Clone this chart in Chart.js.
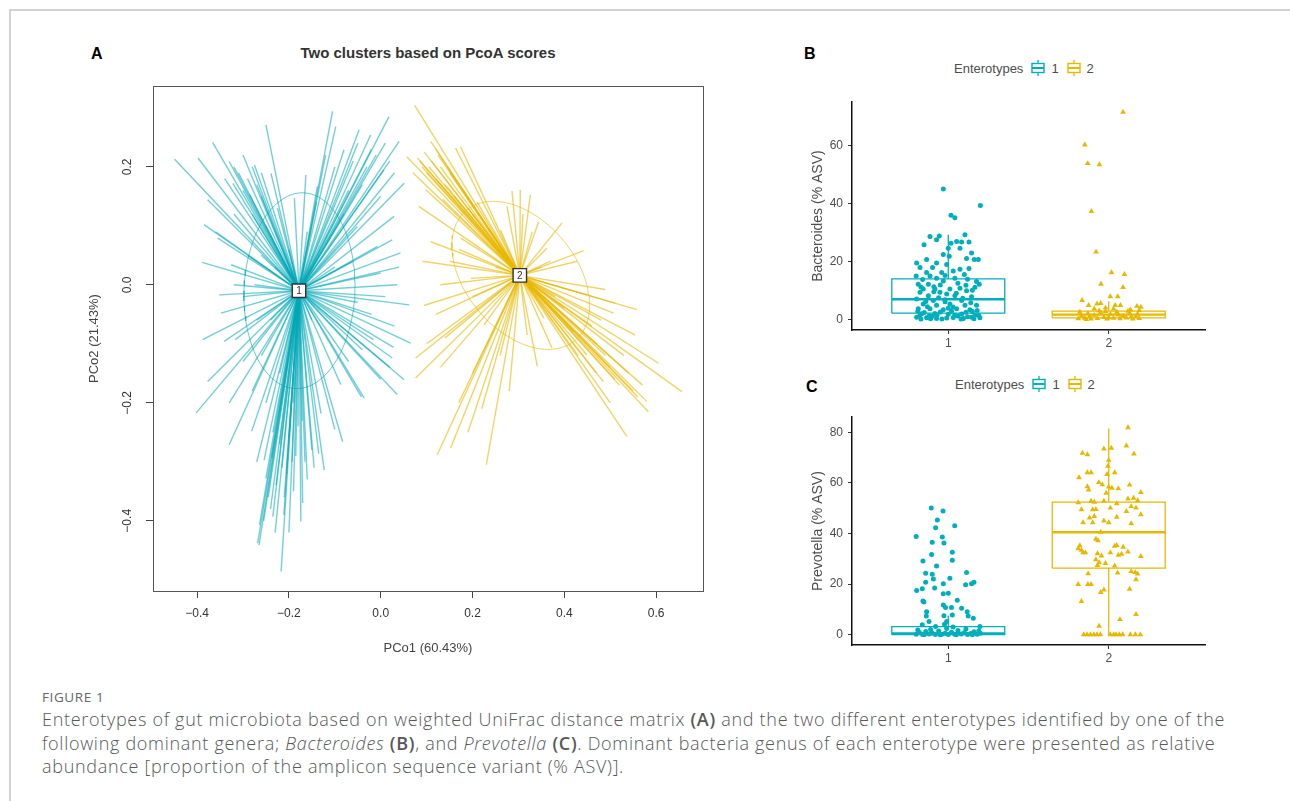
<!DOCTYPE html>
<html>
<head>
<meta charset="utf-8">
<script src="https://cdn.jsdelivr.net/npm/chart.js@4.4.1/dist/chart.umd.min.js"></script>
<style>
  html, body { margin: 0; padding: 0; background: #fff; width: 1290px; height: 801px; overflow: hidden; font-family: 'Liberation Sans', Arial, sans-serif; }
  .frame { position: absolute; left: 9px; top: 9px; width: 1300px; height: 820px; border-top: 2px solid #d2d2d2; border-left: 2px solid #d2d2d2; }
  .abs { position: absolute; }
  .letter { font-weight: bold; font-size: 16px; color: #000; }
  .legend { font-size: 13px; color: #4d4d4d; display: flex; align-items: center; white-space: nowrap; }
  .legend svg { margin: 0 6px 0 8px; }
  .caption { font-family: 'Open Sans', sans-serif; color: #585858; }
  .cap-head { font-size: 13.5px; letter-spacing: 0.6px; color: #666; }
  .cap-body { font-size: 18px; font-weight: 300; letter-spacing: 0.7px; line-height: 23.5px; white-space: nowrap; }
  .cap-body b { font-weight: 600; }
</style>
</head>
<body>
<div class="frame"></div>

<div class="abs letter" style="left:91px;top:45px;">A</div>
<div class="abs" style="left:228px;top:44px;width:400px;text-align:center;font-weight:bold;font-size:15px;color:#333;">Two clusters based on PcoA scores</div>
<div class="abs" style="left:80px;top:70px;width:640px;height:600px;"><canvas id="chartA" width="640" height="600"></canvas></div>

<div class="abs letter" style="left:804px;top:45px;">B</div>
<div class="abs legend" style="left:954px;top:60px;">Enterotypes
  <svg width="14" height="16"><line x1="7" y1="0" x2="7" y2="16" stroke="#00AFBB" stroke-width="1.3"/><rect x="1" y="3.5" width="12" height="9" fill="#fff" stroke="#00AFBB" stroke-width="1.4"/><line x1="1" y1="8" x2="13" y2="8" stroke="#00AFBB" stroke-width="2"/></svg>1
  <svg width="14" height="16"><line x1="7" y1="0" x2="7" y2="16" stroke="#E7B800" stroke-width="1.3"/><rect x="1" y="3.5" width="12" height="9" fill="#fff" stroke="#E7B800" stroke-width="1.4"/><line x1="1" y1="8" x2="13" y2="8" stroke="#E7B800" stroke-width="2"/></svg>2
</div>
<div class="abs" style="left:795px;top:90px;width:420px;height:270px;"><canvas id="chartB" width="420" height="270"></canvas></div>

<div class="abs letter" style="left:806px;top:378px;">C</div>
<div class="abs legend" style="left:955px;top:376px;">Enterotypes
  <svg width="14" height="16"><line x1="7" y1="0" x2="7" y2="16" stroke="#00AFBB" stroke-width="1.3"/><rect x="1" y="3.5" width="12" height="9" fill="#fff" stroke="#00AFBB" stroke-width="1.4"/><line x1="1" y1="8" x2="13" y2="8" stroke="#00AFBB" stroke-width="2"/></svg>1
  <svg width="14" height="16"><line x1="7" y1="0" x2="7" y2="16" stroke="#E7B800" stroke-width="1.3"/><rect x="1" y="3.5" width="12" height="9" fill="#fff" stroke="#E7B800" stroke-width="1.4"/><line x1="1" y1="8" x2="13" y2="8" stroke="#E7B800" stroke-width="2"/></svg>2
</div>
<div class="abs" style="left:795px;top:405px;width:420px;height:270px;"><canvas id="chartC" width="420" height="270"></canvas></div>

<div class="abs caption cap-head" style="left:42px;top:688px;">FIGURE 1</div>
<div class="abs caption cap-body" style="left:42px;top:708px;">
Enterotypes of gut microbiota based on weighted UniFrac distance matrix <b>(A)</b> and the two different enterotypes identified by one of the<br>
following dominant genera; <i>Bacteroides</i> <b>(B)</b>, and <i>Prevotella</i> <b>(C)</b>. Dominant bacteria genus of each enterotype were presented as relative<br>
abundance [proportion of the amplicon sequence variant (% ASV)].
</div>

<script>
// ---- Panel A: PCoA spider plot ----
const centX = [-0.178, 0.303];
const centY = [-0.010, 0.016];

const c1Ends = [
  [-0.449,0.213],[-0.398,0.215],[-0.366,0.241],[-0.385,0.102],[-0.389,0.038],[-0.25,0.271],[-0.33,0.209],[-0.275,0.203],
  [-0.239,0.189],[-0.377,0.144],[-0.322,0.172],[-0.286,0.153],[-0.163,0.186],[-0.105,0.294],[-0.098,0.268],[-0.047,0.263],
  [-0.022,0.254],[0.018,0.285],[0.04,0.243],[0.007,0.195],[0.051,0.172],[0.029,0.116],[0.025,0.076],[0.043,0.054],
  [0.036,0.0],[0.062,-0.034],[-0.08,0.229],[-0.138,0.167],[-0.188,0.147],[-0.225,0.13],[-0.326,0.034],[-0.355,0.079],
  [-0.275,0.0],[-0.051,0.099],[-0.007,0.065],
  [-0.388,-0.093],[-0.402,-0.217],[-0.377,-0.164],[-0.33,-0.271],[-0.341,-0.096],[-0.265,-0.441],[-0.217,-0.486],[-0.235,-0.393],
  [-0.174,-0.401],[-0.123,-0.314],[-0.083,-0.266],[-0.13,-0.218],[-0.036,-0.192],[0.036,-0.186],[0.051,-0.161],[0.065,-0.099],
  [0.025,-0.124],[-0.254,-0.297],[-0.268,-0.438],[-0.264,-0.407],[-0.211,-0.39],[-0.25,-0.328],[-0.135,-0.286],[-0.1,-0.245],
  [-0.042,-0.19],[-0.281,-0.248],[-0.317,-0.093],[-0.171,-0.231],[-0.193,-0.3],[-0.237,-0.293],[-0.087,-0.169],[-0.016,-0.093],
  [-0.352,-0.017],[-0.348,-0.048],[0.028,-0.106],
  [-0.245,-0.36],[-0.228,-0.34],[-0.205,-0.32],[-0.19,-0.35],[-0.16,-0.33],[-0.15,-0.28],[-0.22,-0.27],[-0.2,-0.42],
  [-0.185,-0.29],[-0.24,-0.38],[-0.255,-0.4],[-0.21,-0.36],[-0.17,-0.37],[-0.145,-0.31],
  [-0.31,0.19],[-0.29,0.18],[-0.3,0.16],[-0.27,0.17],[-0.26,0.15],[-0.34,0.18],[-0.28,0.12],[-0.32,0.12],[-0.25,0.1],[-0.36,0.09],
  [-0.01,0.22],[0.01,0.24],[-0.03,0.2],[-0.06,0.21],[-0.04,0.17],[0.0,0.15],[-0.07,0.16],[-0.1,0.2],[-0.12,0.22],[-0.14,0.14],[-0.08,0.12],
  [0.04,0.03],[0.01,-0.02],[-0.02,-0.05],[0.03,-0.07],[-0.05,-0.03],[0.0,0.02],[-0.06,0.04],[-0.1,0.03],[-0.04,-0.11],[0.02,-0.14],
  [-0.07,-0.13],[0.0,-0.16],
  [-0.3,-0.02],[-0.32,0.0],[-0.29,0.05],[-0.27,-0.06],[-0.3,-0.13],[-0.26,-0.12],[-0.33,-0.2],[-0.28,-0.18],[-0.24,-0.06],
  [-0.23,0.03],[-0.22,-0.15],[-0.2,0.06],[-0.16,0.09],[-0.19,-0.2],[-0.15,-0.06],[-0.26,0.05],
  [-0.23,-0.42],[-0.215,-0.31],[-0.2,-0.26],[-0.18,-0.24],[-0.165,-0.3],[-0.235,-0.25],[-0.27,-0.3],[-0.25,-0.2],
  [-0.3,0.22],[-0.28,0.2],[-0.32,0.2],[-0.26,0.19],[0.02,0.21],[-0.02,0.23],[0.03,0.19],[-0.05,0.24]
];

const c2Ends = [
  [0.074,0.304],[0.057,0.217],[0.08,0.215],[0.109,0.243],[0.163,0.232],[0.174,0.234],[0.098,0.161],[0.083,0.133],
  [0.109,0.073],[0.091,0.04],[0.094,-0.035],[0.076,-0.124],[0.076,-0.158],[0.123,-0.288],[0.152,-0.277],[0.23,-0.305],
  [0.341,-0.138],[0.536,-0.257],[0.583,-0.215],[0.58,-0.198],[0.656,-0.181],[0.605,-0.133],[0.558,-0.042],[0.489,-0.008],
  [0.511,-0.031],[0.507,-0.048],[0.554,-0.085],[0.485,-0.164],[0.449,-0.119],[0.286,0.159],[0.304,0.161],[0.326,0.153],
  [0.395,0.105],[0.442,0.058],[0.428,0.04],[0.344,0.107],[0.362,0.062],[0.275,0.133],[0.174,0.079],[0.196,0.011],
  [0.261,0.093],[0.355,-0.056],[0.373,-0.107],[0.319,-0.085],[0.225,-0.068],[0.449,-0.017],
  [0.09,0.2],[0.1,0.19],[0.11,0.21],[0.12,0.18],[0.13,0.2],[0.14,0.17],[0.15,0.19],[0.16,0.15],[0.18,0.16],[0.19,0.13],
  [0.2,0.12],[0.21,0.14],[0.07,0.19],[0.095,0.225],[0.12,0.23],[0.135,0.145],[0.23,0.1],[0.24,0.07],
  [0.52,-0.17],[0.55,-0.18],[0.5,-0.14],[0.47,-0.1],[0.53,-0.12],[0.57,-0.17],[0.46,-0.07],[0.42,-0.08],[0.4,-0.04],
  [0.43,-0.12],[0.48,-0.06],[0.38,-0.02],[0.5,-0.2],[0.47,-0.15],
  [0.1,-0.1],[0.13,-0.14],[0.17,-0.2],[0.2,-0.15],[0.19,-0.25],[0.14,-0.09],[0.12,-0.05],[0.26,-0.12],[0.22,-0.21],[0.28,-0.18],
  [0.15,0.04],[0.13,0.0],[0.2,-0.02],[0.25,0.03],[0.17,0.06],
  [0.31,0.12],[0.33,0.09],[0.37,0.04],[0.35,0.03],
  [0.085,0.21],[0.105,0.2],[0.125,0.22],[0.145,0.2],[0.51,-0.16],[0.54,-0.15],[0.56,-0.19],[0.49,-0.12]
];

// confidence ellipses: centre, x half-extent, y half-extent, phase (deg)
const ellCx = [-0.177, 0.305];
const ellCy = [-0.010, 0.016];
const ellP = [0.121, 0.150];
const ellQ = [0.166, 0.1255];
const ellPhi = [87, 113.6];

const xTicksA = [-0.4, -0.2, 0.0, 0.2, 0.4, 0.6];
const yTicksA = [-0.4, -0.2, 0.0, 0.2];

// ---- Panels B, C: boxplots with jitter ----
const groups = [1, 2];
const bacQ1 = [2.2, 0.6];
const bacMed = [7.0, 1.7];
const bacQ3 = [14.0, 2.9];
const bacLo = [0, 0];
const bacHi = [29.2, 6.3];
const bacTicks = [0, 20, 40, 60];

const prevQ1 = [0, 26.3];
const prevMed = [0.5, 40.5];
const prevQ3 = [3.2, 52.4];
const prevLo = [0, 0];
const prevHi = [7.5, 81.5];
const prevTicks = [0, 20, 40, 60, 80];

// [jitter offset from group, value]
const bac1Pts = [
  [-0.031,45],[0.2,39.3],[0.017,35.9],[0.041,35.1],[-0.056,28.8],[0.104,29.2],[-0.114,28.6],[-0.073,27.5],[-0.151,25.8],
  [0.052,26.9],[0.083,26.7],[0.129,26.7],[0.017,26.3],[0.073,24.6],[0,24.6],[0.145,22.9],[-0.031,22.4],[0.006,21.8],
  [0.114,21],[0.187,20.7],[0.162,20.7],[-0.135,20.7],[-0.197,19.5],[-0.073,19.5],[-0.01,19],[-0.176,17.9],[-0.098,17.9],
  [0.073,17.3],[0.129,17.6],[-0.135,16.2],[-0.041,16.2],[0.031,16.7],[-0.2,15],[-0.114,15],[-0.073,14.2],[0.041,14.2],
  [-0.031,13.3],[0.176,13.1],[0.193,12.2],[-0.187,12.2],[-0.124,12.2],[0.11,11.8],[0.166,11.1],[-0.156,10.5],[-0.083,10.5],
  [0.01,10.5],[0.073,10.8],[0.114,9.9],[-0.176,9.4],[-0.052,9.4],[-0.01,8.8],[0.041,8.2],[-0.124,8.2],[0.145,7.9],
  [-0.197,7.1],[-0.093,6.6],[-0.021,6.8],[0.083,6.6],[-0.156,5.4],[-0.073,4.9],[0.01,5.4],[0.104,4.9],[0.176,4.9],
  [-0.187,3.7],[-0.114,3.7],[-0.031,3.4],[0.052,3.7],[0.135,3.4],[-0.166,2],[-0.083,2.1],[0,1.8],[0.083,1.9],[0.166,1.5],
  [-0.197,0.8],[-0.135,0.6],[-0.073,0.4],[-0.01,0.5],[0.031,0.7],[0.094,0.4],[0.145,0.8],[0.197,0.6],[-0.17,0.2],
  [-0.1,1.1],[0.06,1.2],[0.12,1.0],[-0.05,2.6],[0.15,2.8],[-0.19,2.9],[0.19,1.4],[-0.12,1.3],[0.02,2.9],[-0.06,7.5],
  [0.06,12.5],[-0.16,13.8],[0.1,15.5],[-0.09,11.3],[0.14,5.8],[-0.14,6.2],[0.03,4.3],[-0.02,15.2],
  [-0.18,1.1],[-0.15,2.4],[-0.11,0.3],[-0.07,1.6],[-0.04,0.2],[0.0,3.9],[0.04,1.5],[0.08,0.2],[0.11,2.5],[0.16,0.3],
  [0.18,3.1],[-0.13,4.4],[-0.09,9.6],[0.05,9.1],[-0.05,11.9],[0.12,13.9],[-0.17,11.2],[0.09,7.3],[-0.02,6.1],[0.15,10.1]
];
const bac2Pts = [
  [0.089,71.5],[-0.149,60.2],[-0.131,53.8],[-0.058,53.4],[-0.108,37.3],[-0.079,23.3],[0.017,16.2],[0.098,15.6],
  [-0.048,12.2],[0.089,11.1],[-0.166,6.6],[0.01,7.9],[0.056,7.9],[-0.125,4.9],[-0.073,5.4],[-0.05,5.6],[0.04,4.9],
  [0.073,4.9],[0.176,4.6],[0.2,4.3],[-0.09,3.7],[-0.02,4.0],[0.03,3.7],[0.135,3.4],[0.19,3.2],
  [-0.19,0.3],[-0.17,1.2],[-0.15,0.5],[-0.13,2.1],[-0.11,0.2],[-0.09,1.5],[-0.07,0.4],[-0.05,2.4],[-0.03,0.8],[-0.01,0.2],
  [0.01,1.9],[0.03,0.5],[0.05,2.6],[0.07,0.3],[0.09,1.3],[0.11,0.6],[0.13,2.2],[0.15,0.2],[0.17,1.0],[0.19,0.4],
  [-0.18,2.6],[-0.12,1.0],[-0.06,3.0],[0.0,0.7],[0.06,1.6],[0.12,2.9],[0.18,2.0],[-0.14,0.1],[0.14,0.9],[-0.02,2.8]
];
const prev1Pts = [
  [-0.106,50.1],[-0.033,48.9],[-0.068,45.3],[0.04,43.1],[-0.079,42.3],[-0.2,38.8],[-0.037,38.6],[-0.1,36.5],[-0.027,36.2],
  [0.025,32.6],[-0.104,31.7],[-0.158,29.1],[0.025,29.4],[-0.073,27.1],[-0.141,24.3],[-0.1,23.9],[0.114,24.6],[-0.093,22],
  [0.01,22.3],[-0.031,20.1],[-0.085,18.4],[-0.197,17.5],[-0.162,18.1],[-0.141,20.7],[0.108,19.7],[0.16,20.7],[0.145,20.1],
  [-0.031,16.2],[0,16.4],[-0.158,13.3],[-0.152,12.9],[-0.031,11.7],[0.056,13.6],[-0.017,10.7],[0.02,10.7],[0.083,10.4],
  [-0.135,9.1],[0.118,9.1],[0.124,7.4],[0.025,7.8],[-0.027,7.5],[-0.137,7.4],[0.156,6.5],[-0.12,5.2],[-0.01,5.2],
  [-0.023,4.1],[-0.162,3.9],[0.197,3.2],[-0.079,3.2],[0.03,3.0],
  [-0.2,0.2],[-0.18,0.8],[-0.16,0.1],[-0.14,1.2],[-0.12,0.3],[-0.1,0.6],[-0.08,0.1],[-0.06,1.4],[-0.04,0.2],[-0.02,0.5],
  [0,0.1],[0.02,0.9],[0.04,0.2],[0.06,1.6],[0.08,0.3],[0.1,0.7],[0.12,0.1],[0.14,0.4],[0.16,1.1],[0.18,0.2],[0.2,0.5],
  [-0.19,1.8],[-0.11,2.0],[-0.05,0.0],[0.05,0.0],[0.11,2.2],[0.19,1.5],[-0.15,0.0],[0.15,0.0],[-0.01,2.4]
];
const prev2Pts = [
  [0.12,81.9],[-0.03,73.5],[0.016,73.8],[0.11,74.7],[-0.164,71.8],[-0.133,71.2],[0.157,71.5],[0,69],[-0.005,66.7],
  [-0.133,64.1],[-0.11,64.1],[-0.185,62.1],[-0.01,63.4],[0.037,64.1],[-0.062,60.2],[-0.04,59.3],[0,58.5],[-0.133,58.6],
  [-0.125,57.3],[0.02,58.0],[0.06,57.8],[0.13,59.2],[0.2,56.3],[-0.016,56],[-0.19,52.2],[-0.11,52.8],[-0.09,52.4],
  [-0.03,52.8],[0.05,51.8],[0.12,53.7],[0.155,54],[0.18,53],[-0.17,49.5],[-0.1,49.5],[-0.08,49.6],[0.01,50.1],[0.11,48.8],
  [0.14,50.7],[0.17,50.1],[0.2,47.5],[0.05,46.5],[-0.12,46.2],[-0.09,46.8],[-0.16,44.3],[-0.1,44.3],[0,44.3],[-0.03,45],
  [0.14,43.9],[-0.05,40.6],[-0.08,37.8],[-0.067,37.2],[-0.19,34],[-0.18,35.2],[-0.17,33.4],[-0.16,32.4],[-0.145,32.4],
  [-0.07,32.1],[-0.045,31.2],[0.01,32.4],[0.037,35],[0.05,35.3],[0.06,31.5],[0.08,31.9],[0.09,34.6],[0.12,32.7],[0.2,31],
  [-0.08,29.7],[-0.06,28.5],[-0.02,28.2],[0.037,27.2],[-0.07,27.4],[-0.128,24.1],[0.055,24.4],[0.14,25],[0.165,24.6],
  [0.18,24],[0.17,21.8],[-0.19,19.9],[-0.13,19.9],[-0.11,19.9],[-0.03,17.7],[-0.05,16.7],[0.13,18],[-0.17,13.2],
  [0.17,8],[0.07,6],[-0.06,3.4],
  [-0.156,0],[-0.135,0],[-0.114,0],[-0.093,0],[-0.073,0],[-0.052,0],[0.01,0],[0.031,0],[0.046,0],[0.066,0],[0.087,0],
  [0.135,0],[0.166,0],[0.197,0]
];

const TEAL = '#00AFBB';
const GOLD = '#E7B800';
const TEAL_A = 'rgba(0,168,182,0.55)';
const GOLD_A = 'rgba(231,184,0,0.6)';
const BOX_HALF = 0.352;

const fmtA = v => (Math.abs(v) < 1e-9 ? '0.0' : v.toFixed(1).replace('-', '\u2212'));

function ellipsePoints(i) {
  const pts = [];
  const phi = ellPhi[i] * Math.PI / 180;
  for (let k = 0; k <= 120; k++) {
    const t = k / 120 * 2 * Math.PI;
    pts.push({ x: ellCx[i] + ellP[i] * Math.cos(t), y: ellCy[i] + ellQ[i] * Math.cos(t - phi) });
  }
  return pts;
}

const spokeSets = [];
[[c1Ends, TEAL_A, 0], [c2Ends, GOLD_A, 1]].forEach(([ends, col, g]) => {
  ends.forEach(e => {
    spokeSets.push({
      data: [{ x: centX[g], y: centY[g] }, { x: e[0], y: e[1] }],
      showLine: true, borderColor: col, borderWidth: 1.4, pointRadius: 0, order: 3
    });
  });
});

const panelAExtras = {
  id: 'panelAExtras',
  afterDatasetsDraw(chart) {
    const { ctx, chartArea: a, scales: { x, y } } = chart;
    ctx.save();
    ctx.strokeStyle = '#555';
    ctx.lineWidth = 1;
    ctx.strokeRect(Math.round(a.left) + 0.5, Math.round(a.top) + 0.5, Math.round(a.right - a.left), Math.round(a.bottom - a.top));
    ctx.textAlign = 'center';
    ctx.textBaseline = 'middle';
    ctx.fillStyle = '#333';
    ctx.font = '10px "Liberation Sans", Arial';
    centX.forEach((cx, i) => ctx.fillText(String(i + 1), x.getPixelForValue(cx), y.getPixelForValue(centY[i]) + 0.5));
    ctx.font = '12px "Liberation Sans", Arial';
    yTicksA.forEach(v => {
      ctx.save();
      ctx.translate(a.left - 25, y.getPixelForValue(v));
      ctx.rotate(-Math.PI / 2);
      ctx.fillText(fmtA(v), 0, 0);
      ctx.restore();
    });
    ctx.restore();
  }
};

new Chart(document.getElementById('chartA'), {
  type: 'scatter',
  data: {
    datasets: [
      { data: centX.map((v, i) => ({ x: v, y: centY[i] })), pointStyle: 'rect', pointRadius: 9.5,
        backgroundColor: '#fff', borderColor: '#333', borderWidth: 1.4, order: 0 },
      { data: ellipsePoints(0), showLine: true, borderColor: 'rgba(0,168,182,0.6)', borderWidth: 1, pointRadius: 0, order: 1 },
      { data: ellipsePoints(1), showLine: true, borderColor: 'rgba(231,184,0,0.6)', borderWidth: 1, pointRadius: 0, order: 1 },
      ...spokeSets
    ]
  },
  options: {
    responsive: false, animation: false, devicePixelRatio: 1,
    layout: { padding: { top: 16, right: 17, left: 0, bottom: 0 } },
    plugins: { legend: { display: false }, tooltip: { enabled: false } },
    scales: {
      x: {
        type: 'linear', min: -0.496, max: 0.702,
        afterBuildTicks: s => { s.ticks = xTicksA.map(v => ({ value: v })); },
        afterFit: s => { s.height = 79; },
        grid: { drawOnChartArea: false, drawTicks: true, tickLength: 7, color: '#444' },
        border: { display: false },
        ticks: { color: '#333', font: { size: 12 }, padding: 8, callback: v => fmtA(v) },
        title: { display: true, text: 'PCo1 (60.43%)', color: '#444', font: { size: 13 }, padding: { top: 0, bottom: 14 } }
      },
      y: {
        type: 'linear', min: -0.519, max: 0.337,
        afterBuildTicks: s => { s.ticks = yTicksA.map(v => ({ value: v })); },
        afterFit: s => { s.width = 73; },
        grid: { drawOnChartArea: false, drawTicks: true, tickLength: 7, color: '#444' },
        border: { display: false },
        ticks: { display: false },
        title: { display: true, text: 'PCo2 (21.43%)', color: '#444', font: { size: 13 }, padding: { top: 7, bottom: 0 } }
      }
    }
  },
  plugins: [panelAExtras]
});

function boxLines(q1, med, q3, lo, hi) {
  const outline = [], medians = [];
  groups.forEach((g, i) => {
    const l = g - BOX_HALF, r = g + BOX_HALF;
    outline.push({ x: l, y: q1[i] }, { x: r, y: q1[i] }, { x: r, y: q3[i] }, { x: l, y: q3[i] }, { x: l, y: q1[i] }, { x: null, y: null });
    outline.push({ x: g, y: q3[i] }, { x: g, y: hi[i] }, { x: null, y: null });
    outline.push({ x: g, y: q1[i] }, { x: g, y: lo[i] }, { x: null, y: null });
    medians.push({ x: l, y: med[i] }, { x: r, y: med[i] }, { x: null, y: null });
  });
  return { outline, medians };
}

function boxChart(id, pts1, pts2, q1, med, q3, lo, hi, yMin, yMax, yTicks, yTitle, topPad) {
  const b = boxLines(q1, med, q3, lo, hi);
  // outline for group 1 is the first 12 entries, group 2 the rest
  const g1Box = b.outline.slice(0, 12), g2Box = b.outline.slice(12);
  const g1Med = b.medians.slice(0, 3), g2Med = b.medians.slice(3);
  const axisCommon = {
    type: 'linear',
    grid: { drawOnChartArea: false, drawTicks: true, tickLength: 4, color: '#333', lineWidth: 1 },
    border: { display: true, color: '#111', width: 1.5 }
  };
  new Chart(document.getElementById(id), {
    type: 'scatter',
    data: {
      datasets: [
        { data: g1Box, showLine: true, spanGaps: false, borderColor: TEAL, borderWidth: 1.3, pointRadius: 0, order: 3 },
        { data: g2Box, showLine: true, spanGaps: false, borderColor: GOLD, borderWidth: 1.3, pointRadius: 0, order: 3 },
        { data: g1Med, showLine: true, spanGaps: false, borderColor: TEAL, borderWidth: 2.4, pointRadius: 0, order: 3 },
        { data: g2Med, showLine: true, spanGaps: false, borderColor: GOLD, borderWidth: 2.4, pointRadius: 0, order: 3 },
        { data: pts1.map(p => ({ x: groups[0] + p[0], y: p[1] })), pointStyle: 'circle', pointRadius: 2.5,
          backgroundColor: TEAL, borderWidth: 0, order: 1 },
        { data: pts2.map(p => ({ x: groups[1] + p[0], y: p[1] })), pointStyle: 'triangle', pointRadius: 3.3,
          backgroundColor: GOLD, borderColor: GOLD, borderWidth: 0, order: 0 }
      ]
    },
    options: {
      responsive: false, animation: false, devicePixelRatio: 1,
      layout: { padding: { top: topPad, right: 10, left: 0, bottom: 0 } },
      plugins: { legend: { display: false }, tooltip: { enabled: false } },
      scales: {
        x: Object.assign({}, axisCommon, {
          min: 0.4, max: 2.6,
          afterBuildTicks: s => { s.ticks = groups.map(v => ({ value: v })); },
          afterFit: s => { s.height = 30; },
          ticks: { color: '#4d4d4d', font: { size: 12 }, padding: 2, callback: v => String(v) }
        }),
        y: Object.assign({}, axisCommon, {
          min: yMin, max: yMax,
          afterBuildTicks: s => { s.ticks = yTicks.map(v => ({ value: v })); },
          afterFit: s => { s.width = 57; },
          ticks: { color: '#4d4d4d', font: { size: 12 }, padding: 5, callback: v => String(v) },
          title: { display: true, text: yTitle, color: '#4d4d4d', font: { size: 14 }, padding: { top: 15, bottom: 0 } }
        })
      }
    }
  });
}

boxChart('chartB', bac1Pts, bac2Pts, bacQ1, bacMed, bacQ3, bacLo, bacHi, -3.6, 74.9, bacTicks, 'Bacteroides (% ASV)', 8);
boxChart('chartC', prev1Pts, prev2Pts, prevQ1, prevMed, prevQ3, prevLo, prevHi, -4.1, 86.0, prevTicks, 'Prevotella (% ASV)', 9);
</script>
</body>
</html>
